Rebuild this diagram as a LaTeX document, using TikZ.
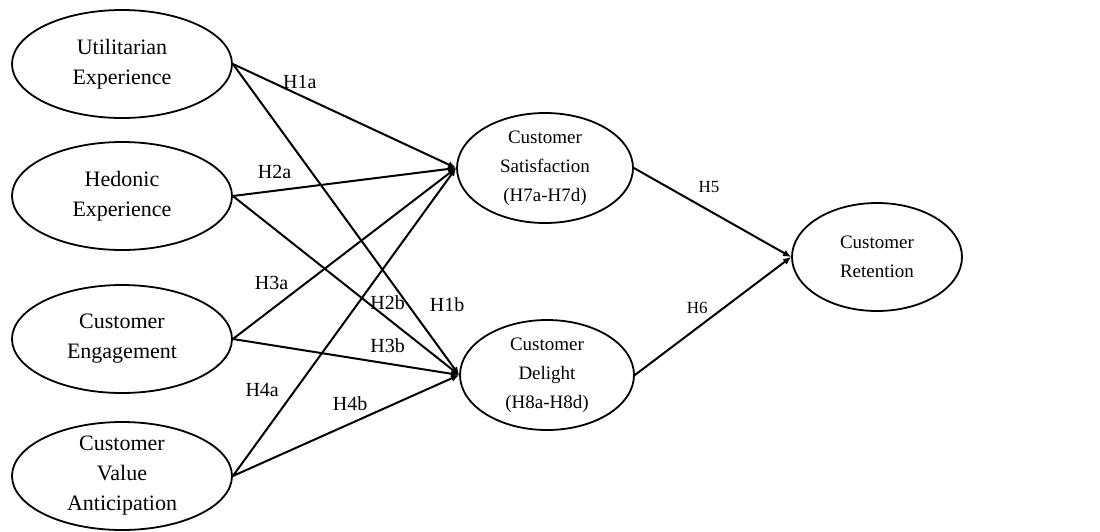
\documentclass[tikz,border=0pt]{standalone}
\usepackage{fontspec}
\setmainfont{Liberation Serif}
\usetikzlibrary{arrows.meta,shapes.geometric,positioning}

\tikzset{
  construct/.style={ellipse, draw, line width=1.8pt, inner sep=0pt, align=center,
    font=\fontsize{22}{30}\selectfont},
  outcome/.style={construct, font=\fontsize{19}{29}\selectfont},
  hyp/.style={font=\fontsize{20}{22}\selectfont, inner sep=0pt},
  hypsmall/.style={font=\fontsize{17}{19}\selectfont, inner sep=0pt},
  hyparrow/.style={->, line width=2pt},
}

\begin{document}
\begin{tikzpicture}[x=1pt, y=-1pt, >={Latex[length=8pt,width=7pt]}]
\useasboundingbox (0,0) rectangle (1100,531);
% antecedents
\node[construct, minimum width=220pt, minimum height=108pt] (UE) at (122,64) {Utilitarian\\Experience};
\node[construct, minimum width=220pt, minimum height=108pt] (HE) at (122,196) {Hedonic\\Experience};
\node[construct, minimum width=220pt, minimum height=108pt] (CE) at (122,339) {Customer\\Engagement};
\node[construct, minimum width=220pt, minimum height=108pt, inner sep=-3pt] (CVA) at (122,476) {Customer\\Value\\Anticipation};
% mediators and outcome
\node[outcome, minimum width=176pt, minimum height=110pt] (CS) at (545,168) {Customer\\Satisfaction\\(H7a-H7d)};
\node[outcome, minimum width=174pt, minimum height=110pt] (CD) at (547,375) {Customer\\Delight\\(H8a-H8d)};
\node[outcome, minimum width=170pt, minimum height=108pt] (CR) at (877,257) {Customer\\Retention};

\path[hyparrow] (UE.east) edge node[hyp, pos=.30, yshift=13pt] {H1a} (CS.west)
            (UE.east) edge node[hyp, pos=.775, xshift=39pt] {H1b} (CD.west)
            (HE.east) edge node[hyp, pos=.187, yshift=19pt] {H2a} (CS.west)
            (HE.east) edge node[hyp, pos=.684, yshift=16pt] {H2b} (CD.west)
            (CE.east) edge node[hyp, pos=.173, yshift=26pt] {H3a} (CS.west)
            (CE.east) edge node[hyp, pos=.684, yshift=18pt] {H3b} (CD.west)
            (CVA.east) edge node[hyp, pos=.279, xshift=-33pt] {H4a} (CS.west)
            (CVA.east) edge node[hyp, pos=.518, yshift=20pt] {H4b} (CD.west)
            (CS.east) edge node[hypsmall, pos=.478, yshift=24pt] {H5} (CR.west)
            (CD.east) edge node[hypsmall, pos=.399, yshift=20pt] {H6} (CR.west);
\end{tikzpicture}
\end{document}
